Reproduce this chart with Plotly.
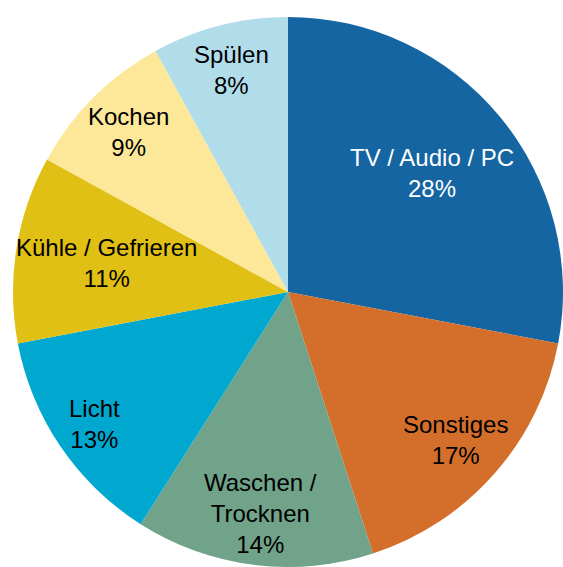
import math

import plotly.graph_objects as go

# data
categories = ["TV / Audio / PC", "Sonstiges", "Waschen /<br>Trocknen", "Licht",
              "Kühle / Gefrieren", "Kochen", "Spülen"]
shares = [28, 17, 14, 13, 11, 9, 8]

colors = ["#1565a3", "#d46f2b", "#71a28a", "#00a8d0", "#e1c015", "#fce898", "#b1ddeb"]
text_colors = ["white", "black", "black", "black", "black", "black", "black"]
# how far out (fraction of radius) each label sits
label_radius = [0.67, 0.80, 0.80, 0.84, 0.66, 0.81, 0.82]

W, H = 563, 567
cx, cy, R = 288, 292, 275  # pie centre / radius in pixels
R_lab = 279  # radius used for placing the labels

fig = go.Figure(
    go.Pie(
        labels=categories,
        values=shares,
        sort=False,
        direction="clockwise",
        rotation=0,
        marker=dict(colors=colors, line=dict(width=0)),
        textinfo="none",
        hoverinfo="label+percent",
        domain=dict(x=[(cx - R) / W, (cx + R) / W], y=[(H - cy - R) / H, (H - cy + R) / H]),
        showlegend=False,
    )
)

# labels at the slice mid-angles
total = sum(shares)
start = 0.0
for cat, val, tc, rf in zip(categories, shares, text_colors, label_radius):
    mid = (start + val / 2) / total * 2 * math.pi
    start += val
    px_x = cx + rf * R_lab * math.sin(mid)
    px_y = cy - rf * R_lab * math.cos(mid)
    fig.add_annotation(
        x=px_x / W, y=1 - px_y / H, xref="paper", yref="paper",
        xanchor="center", yanchor="middle",
        text=f"{cat}<br>{round(val / total * 100)}%",
        showarrow=False,
        font=dict(family="Liberation Sans, Arial", size=24, color=tc),
        align="center",
    )

fig.update_layout(
    width=W, height=H,
    margin=dict(l=0, r=0, t=0, b=0),
    paper_bgcolor="white",
    plot_bgcolor="white",
)

# drop the default page margin so the figure fills the window exactly
fig.write_html(
    "out.html",
    config={"displayModeBar": False},
    post_script="document.body.style.margin='0';"
                "document.documentElement.style.overflow='hidden';",
)
